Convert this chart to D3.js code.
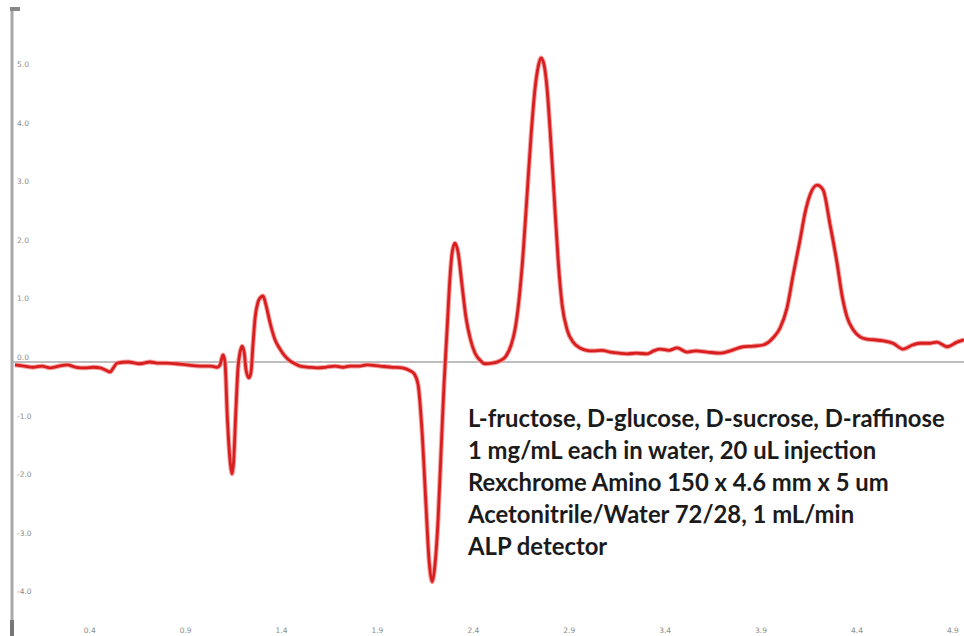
<!DOCTYPE html>
<html lang="en">
<head>
<meta charset="UTF-8">
<title>ALP chromatogram</title>
<script src="https://cdn.jsdelivr.net/npm/d3@7"></script>
<style>
  body { margin: 0; background: #fff; }
  svg { display: block; }
  .tick-label { font-family: "DejaVu Sans", sans-serif; font-size: 7.5px; fill: #8c8c8c; }
  .note { font-family: Lato, "Open Sans", sans-serif; font-weight: 700; fill: #1b1b1b; }
</style>
</head>
<body>
<svg id="chart"></svg>
<script>
// retention time (min) and detector signal
const time = [
  0.010, 0.060, 0.104, 0.150, 0.193, 0.240, 0.282, 0.330, 0.375, 0.420, 0.454, 0.490, 0.506, 0.525, 0.542,
  0.600, 0.662, 0.714, 0.760, 0.803, 0.850, 0.907, 0.975, 1.030, 1.064, 1.079, 1.095, 1.105, 1.118, 1.134,
  1.142, 1.150, 1.162, 1.173, 1.184, 1.194, 1.205, 1.215, 1.230, 1.241, 1.251, 1.262, 1.277, 1.293, 1.303,
  1.319, 1.340, 1.366, 1.392, 1.418, 1.444, 1.470, 1.496, 1.545, 1.585, 1.630, 1.679, 1.720, 1.757, 1.800,
  1.846, 1.913, 1.981, 2.030, 2.070, 2.091, 2.112, 2.132, 2.153, 2.169, 2.185, 2.200, 2.216, 2.232, 2.247,
  2.263, 2.279, 2.290, 2.304, 2.320, 2.341, 2.362, 2.383, 2.409, 2.435, 2.460, 2.497, 2.539, 2.570, 2.597,
  2.617, 2.638, 2.659, 2.680, 2.701, 2.722, 2.737, 2.753, 2.768, 2.784, 2.800, 2.821, 2.842, 2.863, 2.889,
  2.920, 2.956, 2.990, 3.024, 3.070, 3.113, 3.160, 3.201, 3.250, 3.306, 3.340, 3.373, 3.420, 3.462, 3.514,
  3.560, 3.620, 3.686, 3.740, 3.806, 3.860, 3.910, 3.962, 3.999, 4.035, 4.067, 4.103, 4.129, 4.155, 4.192,
  4.223, 4.260, 4.296, 4.322, 4.348, 4.380, 4.416, 4.450, 4.484, 4.540, 4.588, 4.640, 4.690, 4.729, 4.780,
  4.817, 4.870, 4.922, 4.958
];
const signal = [
  -0.05, -0.07, -0.09, -0.07, -0.10, -0.07, -0.05, -0.09, -0.10, -0.09, -0.10, -0.15, -0.17, -0.09, -0.02,
  0.00, -0.03, 0.00, -0.02, -0.02, -0.03, -0.05, -0.07, -0.07, -0.09, -0.05, 0.12, 0.00, -0.99, -1.76,
  -1.91, -1.71, -0.82, -0.10, 0.17, 0.27, 0.17, -0.14, -0.27, -0.17, 0.29, 0.75, 1.02, 1.11, 1.13,
  0.97, 0.67, 0.38, 0.22, 0.10, 0.02, -0.03, -0.07, -0.09, -0.10, -0.09, -0.07, -0.09, -0.07, -0.07,
  -0.05, -0.07, -0.09, -0.10, -0.15, -0.20, -0.39, -1.16, -2.44, -3.38, -3.75, -3.46, -2.70, -1.50, -0.39,
  0.55, 1.48, 1.88, 2.03, 1.88, 1.31, 0.75, 0.41, 0.15, 0.03, -0.03, -0.02, 0.02, 0.10, 0.29,
  0.55, 1.06, 1.83, 2.85, 3.87, 4.68, 5.02, 5.19, 5.08, 4.68, 3.96, 2.85, 1.74, 0.97, 0.55,
  0.34, 0.24, 0.20, 0.19, 0.20, 0.17, 0.15, 0.14, 0.15, 0.14, 0.19, 0.22, 0.20, 0.24, 0.17,
  0.19, 0.17, 0.15, 0.19, 0.26, 0.27, 0.29, 0.41, 0.58, 0.92, 1.48, 2.08, 2.54, 2.85, 3.02,
  2.94, 2.34, 1.69, 1.14, 0.77, 0.55, 0.43, 0.39, 0.38, 0.36, 0.32, 0.22, 0.29, 0.32, 0.32,
  0.34, 0.26, 0.34, 0.38
];

const yTicks = [5, 4, 3, 2, 1, 0, -1, -2, -3, -4];
const xTicks = [0.4, 0.9, 1.4, 1.9, 2.4, 2.9, 3.4, 3.9, 4.4, 4.9];

const noteLines = [
  "L-fructose, D-glucose, D-sucrose, D-raffinose",
  "1 mg/mL each in water, 20 uL injection",
  "Rexchrome Amino 150 x 4.6 mm x 5 um",
  "Acetonitrile/Water 72/28, 1 mL/min",
  "ALP detector"
];

const width = 964, height = 636;

const svg = d3.select("#chart")
  .attr("width", width)
  .attr("height", height);

const x = d3.scaleLinear().domain([0, 4.958]).range([13, 964]);
const y = d3.scaleLinear().domain([0, 5]).range([362, 69]);

// left axis line
svg.append("line")
  .attr("x1", 12).attr("x2", 12)
  .attr("y1", 8).attr("y2", height)
  .attr("stroke", "#a8a8a8")
  .attr("stroke-width", 3);

// small marks at the ends of the axis
svg.append("rect").attr("x", 10).attr("y", 7).attr("width", 10).attr("height", 4).attr("fill", "#888");
svg.append("rect").attr("x", 10).attr("y", 620).attr("width", 4).attr("height", 16).attr("fill", "#777");

// zero line
svg.append("line")
  .attr("x1", 13).attr("x2", width)
  .attr("y1", y(0)).attr("y2", y(0))
  .attr("stroke", "#a9a9a9")
  .attr("stroke-width", 1.5);

// y tick labels
svg.selectAll(".ylab")
  .data(yTicks)
  .join("text")
    .attr("class", "tick-label")
    .attr("x", 17)
    .attr("y", d => y(d) - 2)
    .text(d => d.toFixed(1));

// x tick labels
svg.selectAll(".xlab")
  .data(xTicks)
  .join("text")
    .attr("class", "tick-label")
    .attr("x", d => x(d))
    .attr("y", 633)
    .attr("text-anchor", "middle")
    .text(d => d.toFixed(1));

// trace
const points = time.map((t, i) => [t, signal[i]]);
const line = d3.line()
  .x(d => x(d[0]))
  .y(d => y(d[1]))
  .curve(d3.curveMonotoneX);

svg.append("path")
  .datum(points)
  .attr("fill", "none")
  .attr("stroke", "#f3a0a0")
  .attr("stroke-width", 4.8)
  .attr("stroke-linejoin", "round")
  .attr("d", line);

svg.append("path")
  .datum(points)
  .attr("fill", "none")
  .attr("stroke", "#d81e1e")
  .attr("stroke-width", 2.8)
  .attr("stroke-linejoin", "round")
  .attr("d", line);

// annotation, sized so the first line spans the same width as the original
const note = svg.append("g");
const first = note.append("text").attr("class", "note").attr("font-size", 20).text(noteLines[0]);
const fontSize = 20 * 477 / first.node().getComputedTextLength();
first.remove();

note.selectAll("text")
  .data(noteLines)
  .join("text")
    .attr("class", "note")
    .attr("font-size", fontSize)
    .attr("x", 468)
    .attr("y", (d, i) => 427 + i * 32)
    .text(d => d);
</script>
</body>
</html>
